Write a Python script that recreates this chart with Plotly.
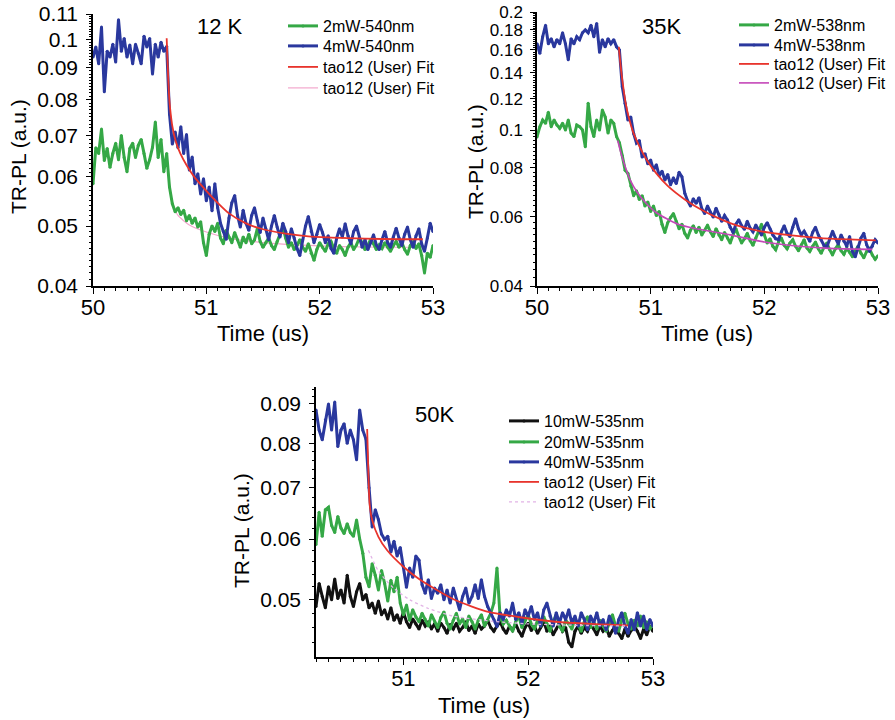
import numpy as np
import plotly.graph_objects as go

FONT = "Liberation Sans, Arial, sans-serif"
W, H = 895, 720

# ---------------- sample times (us) ----------------
T_TOP = np.round(50.0 + 0.025 * np.arange(121), 3)   # 50.000 ... 53.000
T_50K = np.round(50.3 + 0.025 * np.arange(109), 3)   # 50.300 ... 53.000

# ---------------- 12 K ----------------
PL12_2MW = [
    0.0585, 0.0669, 0.0655, 0.0717, 0.0638, 0.0667, 0.0622, 0.0655, 0.0680, 0.0640,
    0.0700, 0.0645, 0.0612, 0.0667, 0.0680, 0.0645, 0.0675, 0.0690, 0.0655, 0.0620,
    0.0640, 0.0670, 0.0736, 0.0645, 0.0690, 0.0612, 0.0655, 0.0578, 0.0543, 0.0527,
    0.0535, 0.0522, 0.0530, 0.0510, 0.0520, 0.0505, 0.0515, 0.0498, 0.0508, 0.0470,
    0.0448, 0.0485, 0.0500, 0.0490, 0.0505, 0.0478, 0.0468, 0.0492, 0.0480, 0.0470,
    0.0488, 0.0475, 0.0462, 0.0480, 0.0470, 0.0485, 0.0468, 0.0475, 0.0495, 0.0472,
    0.0462, 0.0470, 0.0478, 0.0465, 0.0458, 0.0472, 0.0485, 0.0498, 0.0478, 0.0462,
    0.0470, 0.0458, 0.0465, 0.0475, 0.0462, 0.0455, 0.0468, 0.0452, 0.0440, 0.0458,
    0.0470, 0.0462, 0.0455, 0.0468, 0.0472, 0.0460, 0.0452, 0.0465, 0.0458, 0.0448,
    0.0462, 0.0470, 0.0458, 0.0466, 0.0478, 0.0470, 0.0458, 0.0465, 0.0476, 0.0468,
    0.0458, 0.0466, 0.0460, 0.0470, 0.0462, 0.0455, 0.0465, 0.0472, 0.0462, 0.0470,
    0.0458, 0.0450, 0.0465, 0.0472, 0.0460, 0.0468, 0.0448, 0.0420, 0.0452, 0.0445,
    0.0465,
]
PL12_4MW = [
    0.0937, 0.0973, 0.0914, 0.1048, 0.0824, 0.0958, 0.0937, 0.0983, 0.0920, 0.1077,
    0.0958, 0.1004, 0.0937, 0.0980, 0.0914, 0.0983, 0.0950, 0.0914, 0.1013, 0.0973,
    0.1004, 0.0880, 0.0983, 0.0937, 0.0990, 0.0958, 0.0975, 0.0758, 0.0678, 0.0709,
    0.0669, 0.0723, 0.0655, 0.0703, 0.0616, 0.0646, 0.0585, 0.0607, 0.0563, 0.0596,
    0.0549, 0.0578, 0.0529, 0.0585, 0.0535, 0.0505, 0.0490, 0.0476, 0.0515, 0.0545,
    0.0560, 0.0520, 0.0498, 0.0530, 0.0505, 0.0492, 0.0520, 0.0535, 0.0510, 0.0488,
    0.0515, 0.0495, 0.0475, 0.0500, 0.0520, 0.0498, 0.0480, 0.0505, 0.0490, 0.0470,
    0.0495, 0.0478, 0.0460, 0.0448, 0.0475, 0.0500, 0.0518, 0.0490, 0.0470, 0.0485,
    0.0503, 0.0488, 0.0470, 0.0482, 0.0460, 0.0452, 0.0478, 0.0495, 0.0480, 0.0504,
    0.0482, 0.0468, 0.0490, 0.0500, 0.0478, 0.0462, 0.0475, 0.0458, 0.0470, 0.0484,
    0.0466, 0.0458, 0.0475, 0.0490, 0.0470, 0.0462, 0.0480, 0.0496, 0.0478, 0.0465,
    0.0485, 0.0498, 0.0475, 0.0462, 0.0482, 0.0495, 0.0468, 0.0455, 0.0478, 0.0505,
    0.0490,
]
FIT12_A_T = [50.65, 50.66, 50.67, 50.68, 50.70, 50.73, 50.77, 50.83, 50.90, 51.00,
             51.10, 51.20, 51.35, 51.50, 51.70, 51.90, 52.10, 52.40, 52.70, 52.91]
FIT12_A_V = [0.1005, 0.0900, 0.0820, 0.0775, 0.0725, 0.0685, 0.0655, 0.0625, 0.0598, 0.0570,
             0.0545, 0.0524, 0.0505, 0.0494, 0.0486, 0.0481, 0.0479, 0.0477, 0.0476, 0.0476]
FIT12_B_T = [50.66, 50.70, 50.75, 50.85, 51.00, 51.20, 51.50, 51.80, 52.20, 52.60, 52.91]
FIT12_B_V = [0.0620, 0.0545, 0.0520, 0.0502, 0.0489, 0.0478, 0.0470, 0.0466, 0.0463, 0.0462, 0.0462]

# ---------------- 35 K ----------------
PL35_2MW = [
    0.0960, 0.1020, 0.1060, 0.1040, 0.1110, 0.1020, 0.1060, 0.1030, 0.1010, 0.1040,
    0.1000, 0.1060, 0.0982, 0.0962, 0.1030, 0.1020, 0.1000, 0.0906, 0.1170, 0.1020,
    0.0962, 0.1060, 0.1000, 0.1125, 0.1080, 0.0982, 0.1060, 0.1040, 0.0962, 0.0928,
    0.0860, 0.0790, 0.0775, 0.0720, 0.0680, 0.0700, 0.0665, 0.0680, 0.0640, 0.0655,
    0.0620, 0.0640, 0.0605, 0.0620, 0.0575, 0.0548, 0.0580, 0.0598, 0.0612, 0.0585,
    0.0560, 0.0575, 0.0545, 0.0530, 0.0555, 0.0570, 0.0548, 0.0565, 0.0540, 0.0555,
    0.0572, 0.0550, 0.0535, 0.0560, 0.0540, 0.0525, 0.0548, 0.0530, 0.0515, 0.0540,
    0.0560, 0.0535, 0.0515, 0.0528, 0.0545, 0.0522, 0.0508, 0.0530, 0.0555, 0.0575,
    0.0540, 0.0515, 0.0528, 0.0505, 0.0495, 0.0518, 0.0530, 0.0508, 0.0498, 0.0515,
    0.0525, 0.0505, 0.0492, 0.0510, 0.0525, 0.0500, 0.0490, 0.0505, 0.0518, 0.0498,
    0.0485, 0.0502, 0.0515, 0.0495, 0.0480, 0.0498, 0.0510, 0.0492, 0.0482, 0.0500,
    0.0488, 0.0475, 0.0492, 0.0505, 0.0485, 0.0472, 0.0490, 0.0498, 0.0480, 0.0468,
    0.0478,
]
PL35_4MW = [
    0.1660, 0.1570, 0.1730, 0.1850, 0.1660, 0.1710, 0.1630, 0.1700, 0.1660, 0.1770,
    0.1660, 0.1510, 0.1710, 0.1660, 0.1730, 0.1700, 0.1770, 0.1800, 0.1770, 0.1850,
    0.1730, 0.1870, 0.1580, 0.1700, 0.1630, 0.1710, 0.1660, 0.1700, 0.1630, 0.1600,
    0.1290, 0.1170, 0.1060, 0.1080, 0.0980, 0.0926, 0.0940, 0.0853, 0.0870, 0.0820,
    0.0838, 0.0790, 0.0815, 0.0765, 0.0785, 0.0745, 0.0770, 0.0725, 0.0755, 0.0730,
    0.0780, 0.0760, 0.0690, 0.0660, 0.0640, 0.0668, 0.0650, 0.0672, 0.0630, 0.0612,
    0.0640, 0.0618, 0.0600, 0.0632, 0.0610, 0.0585, 0.0605, 0.0590, 0.0565, 0.0548,
    0.0575, 0.0590, 0.0570, 0.0558, 0.0585, 0.0562, 0.0550, 0.0572, 0.0556, 0.0540,
    0.0565, 0.0580, 0.0560, 0.0540, 0.0528, 0.0525, 0.0550, 0.0570, 0.0545, 0.0535,
    0.0565, 0.0594, 0.0560, 0.0540, 0.0552, 0.0535, 0.0520, 0.0548, 0.0565, 0.0540,
    0.0525, 0.0508, 0.0503, 0.0530, 0.0552, 0.0530, 0.0512, 0.0540, 0.0520, 0.0505,
    0.0535, 0.0490, 0.0475, 0.0505, 0.0530, 0.0545, 0.0510, 0.0490, 0.0505, 0.0525,
    0.0515,
]
FIT35_A_T = [50.72, 50.74, 50.76, 50.78, 50.81, 50.85, 50.90, 50.97, 51.05, 51.15,
             51.30, 51.45, 51.60, 51.75, 51.95, 52.20, 52.50, 52.80, 52.98]
FIT35_A_V = [0.163, 0.142, 0.128, 0.117, 0.107, 0.098, 0.091, 0.0835, 0.0775, 0.0720,
             0.0665, 0.0625, 0.0595, 0.0572, 0.0553, 0.0540, 0.0530, 0.0525, 0.0523]
FIT35_B_T = [50.71, 50.74, 50.78, 50.82, 50.88, 50.95, 51.05, 51.24, 51.43, 51.70,
             52.00, 52.28, 52.57, 52.95]
FIT35_B_V = [0.0940, 0.0870, 0.0800, 0.0745, 0.0695, 0.0655, 0.0615, 0.0575, 0.0558, 0.0540,
             0.0518, 0.0506, 0.0499, 0.0496]

# ---------------- 50 K ----------------
PL50_10MW = [
    0.0490, 0.0525, 0.0505, 0.0488, 0.0520, 0.0500, 0.0532, 0.0502, 0.0515, 0.0495,
    0.0538, 0.0505, 0.0490, 0.0512, 0.0525, 0.0500, 0.0508, 0.0488, 0.0495, 0.0480,
    0.0498, 0.0478, 0.0485, 0.0472, 0.0488, 0.0470, 0.0478, 0.0466, 0.0482, 0.0468,
    0.0460, 0.0472, 0.0465, 0.0458, 0.0470, 0.0462, 0.0468, 0.0458, 0.0465, 0.0455,
    0.0466, 0.0460, 0.0452, 0.0464, 0.0458, 0.0466, 0.0455, 0.0460, 0.0468, 0.0456,
    0.0462, 0.0452, 0.0465, 0.0458, 0.0462, 0.0470, 0.0460, 0.0455, 0.0462, 0.0468,
    0.0458, 0.0452, 0.0462, 0.0456, 0.0465, 0.0455, 0.0448, 0.0460, 0.0466, 0.0456,
    0.0462, 0.0452, 0.0460, 0.0468, 0.0455, 0.0462, 0.0450, 0.0458, 0.0466, 0.0455,
    0.0460, 0.0440, 0.0434, 0.0455, 0.0462, 0.0452, 0.0460, 0.0455, 0.0465, 0.0458,
    0.0450, 0.0462, 0.0455, 0.0460, 0.0448, 0.0456, 0.0462, 0.0452, 0.0445, 0.0458,
    0.0448, 0.0456, 0.0462, 0.0455, 0.0445, 0.0458, 0.0450, 0.0462, 0.0455,
]
PL50_20MW = [
    0.0590, 0.0650, 0.0605, 0.0655, 0.0660, 0.0625, 0.0612, 0.0642, 0.0620, 0.0610,
    0.0628, 0.0612, 0.0605, 0.0635, 0.0600, 0.0575, 0.0535, 0.0520, 0.0557, 0.0538,
    0.0515, 0.0546, 0.0525, 0.0498, 0.0530, 0.0512, 0.0535, 0.0495, 0.0478, 0.0492,
    0.0470, 0.0485, 0.0475, 0.0468, 0.0480, 0.0472, 0.0462, 0.0478, 0.0468, 0.0460,
    0.0474, 0.0482, 0.0466, 0.0458, 0.0470, 0.0480, 0.0465, 0.0472, 0.0460, 0.0476,
    0.0468, 0.0458, 0.0470, 0.0478, 0.0462, 0.0470, 0.0480, 0.0495, 0.0550, 0.0475,
    0.0465, 0.0470, 0.0462, 0.0455, 0.0468, 0.0476, 0.0460, 0.0470, 0.0478, 0.0465,
    0.0458, 0.0470, 0.0462, 0.0475, 0.0466, 0.0455, 0.0468, 0.0478, 0.0462, 0.0455,
    0.0470, 0.0465, 0.0458, 0.0472, 0.0464, 0.0455, 0.0468, 0.0475, 0.0460, 0.0468,
    0.0458, 0.0470, 0.0462, 0.0455, 0.0466, 0.0478, 0.0462, 0.0455, 0.0470, 0.0480,
    0.0465, 0.0458, 0.0470, 0.0462, 0.0476, 0.0460, 0.0468, 0.0458, 0.0465,
]
PL50_40MW = [
    0.0884, 0.0832, 0.0808, 0.0858, 0.0900, 0.0832, 0.0905, 0.0792, 0.0832, 0.0848,
    0.0800, 0.0832, 0.0808, 0.0761, 0.0884, 0.0832, 0.0810, 0.0700, 0.0622, 0.0655,
    0.0636, 0.0609, 0.0599, 0.0605, 0.0577, 0.0596, 0.0570, 0.0585, 0.0553, 0.0519,
    0.0550, 0.0535, 0.0570, 0.0563, 0.0523, 0.0510, 0.0531, 0.0502, 0.0518, 0.0510,
    0.0523, 0.0500, 0.0515, 0.0495, 0.0518, 0.0500, 0.0485, 0.0505, 0.0518, 0.0495,
    0.0505, 0.0523, 0.0502, 0.0531, 0.0505, 0.0490, 0.0481, 0.0471, 0.0461, 0.0481,
    0.0471, 0.0485, 0.0476, 0.0495, 0.0471, 0.0481, 0.0466, 0.0485, 0.0476, 0.0490,
    0.0471, 0.0481, 0.0462, 0.0485, 0.0495, 0.0476, 0.0462, 0.0481, 0.0466, 0.0481,
    0.0471, 0.0485, 0.0466, 0.0476, 0.0462, 0.0481, 0.0471, 0.0457, 0.0476, 0.0466,
    0.0481, 0.0462, 0.0471, 0.0457, 0.0476, 0.0466, 0.0452, 0.0471, 0.0481, 0.0462,
    0.0452, 0.0471, 0.0457, 0.0481, 0.0462, 0.0476, 0.0457, 0.0471, 0.0462,
]
FIT50_A_T = [50.71, 50.715, 50.72, 50.73, 50.75, 50.80, 50.87, 51.00, 51.14, 51.41,
             51.68, 51.95, 52.22, 52.50, 52.80]
FIT50_A_V = [0.0835, 0.0780, 0.0730, 0.0665, 0.0635, 0.0604, 0.0580, 0.0552, 0.0530, 0.0500,
             0.0482, 0.0474, 0.0468, 0.0465, 0.0463]
FIT50_B_T = [50.72, 50.80, 50.92, 51.05, 51.20, 51.40, 51.70, 52.00, 52.40, 52.80]
FIT50_B_V = [0.0580, 0.0545, 0.0518, 0.0500, 0.0487, 0.0476, 0.0469, 0.0465, 0.0463, 0.0462]

# ---------------- styling ----------------
GREEN = "#35a846"
BLUE = "#2a389e"
BLACK = "#111111"
RED = "#e8342c"
MAGENTA = "#c447b8"
PINK = "#f2a6cc"
LAVENDER = "#e2b4e6"


def px(x):
    return x / W


def py(y):
    return 1 - y / H


fig = go.Figure()
legends = {}
legend_count = [0]


def place_legend(x, yc):
    """Each legend entry gets its own legend box, centred on row yc (pixels)."""
    legend_count[0] += 1
    n = legend_count[0]
    key = "legend" if n == 1 else f"legend{n}"
    legends[key] = dict(
        x=px(x), y=py(yc), xanchor="left", yanchor="middle",
        bgcolor="rgba(0,0,0,0)", borderwidth=0,
        font=dict(family=FONT, size=16, color="black"),
        itemwidth=30,
    )
    return key


def data_trace(t, v, name, color, xa, ya, lx, ly):
    fig.add_trace(go.Scatter(
        x=t, y=v, name=name, mode="lines+markers",
        line=dict(color=color, width=3),
        marker=dict(color=color, size=3),
        xaxis=xa, yaxis=ya, legend=place_legend(lx, ly), showlegend=True,
    ))


def fit_trace(t, v, color, xa, ya, lx, ly, width=1.8, dash="solid"):
    fig.add_trace(go.Scatter(
        x=t, y=v, name="tao12 (User) Fit", mode="lines",
        line=dict(color=color, width=width, shape="spline", smoothing=0.6, dash=dash),
        xaxis=xa, yaxis=ya, legend=place_legend(lx, ly), showlegend=True,
    ))


# 12 K panel
fit_trace(FIT12_B_T, FIT12_B_V, PINK, "x", "y", 283, 88, width=1.2)
data_trace(T_TOP, PL12_2MW, "2mW-540nm", GREEN, "x", "y", 283, 26)
data_trace(T_TOP, PL12_4MW, "4mW-540nm", BLUE, "x", "y", 283, 46)
fit_trace(FIT12_A_T, FIT12_A_V, RED, "x", "y", 283, 67)

# 35 K panel
data_trace(T_TOP, PL35_2MW, "2mW-538nm", GREEN, "x2", "y2", 734, 25)
data_trace(T_TOP, PL35_4MW, "4mW-538nm", BLUE, "x2", "y2", 734, 45)
fit_trace(FIT35_A_T, FIT35_A_V, RED, "x2", "y2", 734, 64)
fit_trace(FIT35_B_T, FIT35_B_V, MAGENTA, "x2", "y2", 734, 83, width=1.6)

# 50 K panel
data_trace(T_50K, PL50_10MW, "10mW-535nm", BLACK, "x3", "y3", 504, 421)
data_trace(T_50K, PL50_20MW, "20mW-535nm", GREEN, "x3", "y3", 504, 442)
data_trace(T_50K, PL50_40MW, "40mW-535nm", BLUE, "x3", "y3", 504, 462)
fit_trace(FIT50_A_T, FIT50_A_V, RED, "x3", "y3", 504, 482)
fit_trace(FIT50_B_T, FIT50_B_V, LAVENDER, "x3", "y3", 504, 502, width=1.3, dash="dot")

# empty traces that attach the minor-tick companion axes to each panel
for xa, ya in (("x", "y4"), ("x2", "y5"), ("x3", "y6")):
    fig.add_trace(go.Scatter(x=[], y=[], xaxis=xa, yaxis=ya, mode="lines",
                             showlegend=False, hoverinfo="skip"))


def xaxis(domain, anchor, rng):
    return dict(
        domain=domain, anchor=anchor, range=rng,
        tickmode="linear", tick0=50, dtick=1,
        ticks="outside", ticklen=6, tickwidth=1.2, tickcolor="black",
        minor=dict(ticks="outside", ticklen=3, tickwidth=1, tickcolor="black",
                   tickmode="linear", tick0=50, dtick=0.1),
        showline=True, linecolor="black", linewidth=1.5,
        showgrid=False, zeroline=False, automargin=False,
        tickfont=dict(family=FONT, size=22, color="black"),
        ticklabelstandoff=-5,
    )


def yaxis(domain, anchor, lo, hi, first, step, size):
    """Log axis with labelled ticks every `step`."""
    return dict(
        domain=domain, anchor=anchor, type="log",
        range=[np.log10(lo), np.log10(hi)],
        tickmode="linear", tick0=first, dtick=f"L{step}", tickformat="~g",
        ticks="outside", ticklen=5, tickwidth=1.2, tickcolor="black",
        showline=True, linecolor="black", linewidth=1.5,
        showgrid=False, zeroline=False, automargin=False,
        tickfont=dict(family=FONT, size=size, color="black"),
        ticklabelstandoff=4,
    )


def yminor(domain, anchor, over, lo, hi, first, step):
    """Unlabelled companion log axis carrying the fine minor ticks."""
    return dict(
        domain=domain, anchor=anchor, overlaying=over, side="left", type="log",
        range=[np.log10(lo), np.log10(hi)],
        tickmode="linear", tick0=first, dtick=f"L{step}", showticklabels=False,
        ticks="outside", ticklen=3, tickwidth=1, tickcolor="black",
        showline=False, showgrid=False, zeroline=False, automargin=False,
    )


def label(x, y, text, size=21, angle=0):
    return dict(
        x=px(x), y=py(y), xref="paper", yref="paper", text=text, showarrow=False,
        textangle=angle, xanchor="center", yanchor="middle",
        font=dict(family=FONT, size=size, color="black"),
    )


D1X, D1Y = [px(93), px(433)], [py(286), py(14)]
D2X, D2Y = [px(537), px(878)], [py(286), py(12)]
D3X, D3Y = [px(316), px(653)], [py(657), py(387)]

fig.update_layout(
    width=W, height=H,
    margin=dict(l=0, r=0, t=0, b=0, pad=0, autoexpand=False),
    paper_bgcolor="white", plot_bgcolor="white",
    showlegend=True,
    font=dict(family=FONT, color="black"),
    xaxis=xaxis(D1X, "y", [50, 53]),
    yaxis=yaxis(D1Y, "x", 0.04, 0.11, 0.04, 0.01, 21),
    xaxis2=xaxis(D2X, "y2", [50, 53]),
    yaxis2=yaxis(D2Y, "x2", 0.04, 0.2, 0.04, 0.02, 17),
    xaxis3=xaxis(D3X, "y3", [50.3, 53]),
    yaxis3=yaxis(D3Y, "x3", 0.0421, 0.0947, 0.05, 0.01, 21),
    yaxis4=yminor(D1Y, "x", "y", 0.04, 0.11, 0.04, 0.001),
    yaxis5=yminor(D2Y, "x2", "y2", 0.04, 0.2, 0.04, 0.002),
    yaxis6=yminor(D3Y, "x3", "y3", 0.0421, 0.0947, 0.044, 0.002),
    annotations=[
        label(220, 27, "12 K", size=22),
        label(661, 27, "35K", size=22),
        label(434, 415, "50K", size=22),
        label(18, 157, "TR-PL (a.u.)", angle=-90),
        label(476, 162, "TR-PL (a.u.)", angle=-90),
        label(241, 531, "TR-PL (a.u.)", angle=-90),
        label(263, 333, "Time (us)", size=22),
        label(707, 333, "Time (us)", size=22),
        label(484, 705, "Time (us)", size=22),
    ],
    **legends,
)

fig.write_html("out.html")
